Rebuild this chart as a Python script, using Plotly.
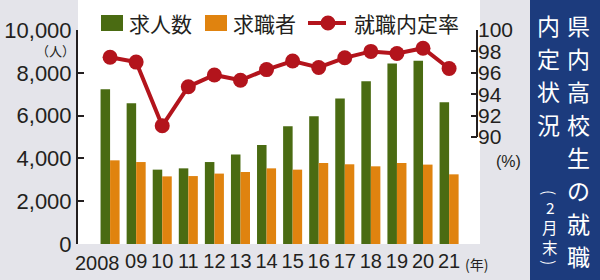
import plotly.graph_objects as go

# ---- data ----
years = ["2008", "09", "10", "11", "12", "13", "14", "15", "16", "17", "18", "19", "20", "21"]
job_openings = [7230, 6580, 3475, 3535, 3830, 4180, 4630, 5500, 5970, 6800, 7610, 8440, 8560, 6620]   # 求人数
job_seekers = [3910, 3830, 3160, 3175, 3290, 3365, 3535, 3475, 3785, 3725, 3630, 3785, 3710, 3255]    # 求職者
offer_rate = [97.45, 97.0, 91.05, 94.7, 95.8, 95.3, 96.3, 97.1, 96.5, 97.4, 98.0, 97.8, 98.3, 96.4]   # 就職内定率
left_ticks = [0, 2000, 4000, 6000, 8000, 10000]
right_ticks = [90, 92, 94, 96, 98, 100]
names = ["求人数", "求職者", "就職内定率"]
title_right = "県内高校生の就職"
title_left = "内定状況"
title_note = "（2月末）"

# ---- style ----
GREEN = "#4a6b12"
ORANGE = "#e0830f"
RED = "#b3141c"
NAVY = "#1c3b7d"
BG = "#e4e4ea"
TXT = "#231f20"
NUM_FONT = "Liberation Sans, Arial, sans-serif"
CJK_FONT = "Noto Sans CJK JP, sans-serif"

W, H = 600, 280
L, R, T, B = 78, 477, 30, 244


def px(x):
    return (x - L) / (R - L)


def py(y):
    return (B - y) / (B - T)


fig = go.Figure()
fig.add_bar(x=years, y=job_openings, name=names[0], marker=dict(color=GREEN, line=dict(width=0)))
fig.add_bar(x=years, y=job_seekers, name=names[1], marker=dict(color=ORANGE, line=dict(width=0)))
fig.add_scatter(x=years, y=offer_rate, name=names[2], yaxis="y2", mode="lines+markers",
                line=dict(color=RED, width=4), marker=dict(color=RED, size=15), cliponaxis=False)

# first year label is drawn shifted left (as in the original), the rest are axis tick labels
xtext = [""] + years[1:]

shapes = [
    # white chart area
    dict(type="rect", xref="paper", yref="paper", x0=px(L), x1=px(480), y0=py(244), y1=py(0),
         fillcolor="white", line=dict(width=0), layer="below"),
    # navy title box
    dict(type="rect", xref="paper", yref="paper", x0=px(530), x1=px(600), y0=py(280), y1=py(0),
         fillcolor=NAVY, line=dict(width=0), layer="below"),
    # right axis line (90-100 only)
    dict(type="line", xref="x domain", yref="y2", x0=1, x1=1, y0=right_ticks[0], y1=right_ticks[-1],
         line=dict(color=TXT, width=2)),
    # legend swatches
    dict(type="rect", xref="paper", yref="paper", x0=px(101), x1=px(123), y0=py(31), y1=py(15),
         fillcolor=GREEN, line=dict(width=0)),
    dict(type="rect", xref="paper", yref="paper", x0=px(205), x1=px(227), y0=py(31), y1=py(15),
         fillcolor=ORANGE, line=dict(width=0)),
    dict(type="line", xref="paper", yref="paper", x0=px(308), x1=px(346), y0=py(23), y1=py(23),
         line=dict(color=RED, width=4)),
    dict(type="circle", xref="paper", yref="paper", x0=px(320.5), x1=px(335.5), y0=py(30.5), y1=py(15.5),
         fillcolor=RED, line=dict(width=0)),
]

annotations = [
    dict(text=years[0], x=0, xref="x", xshift=-13, y=py(263), yref="paper",
         xanchor="center", yanchor="middle", showarrow=False,
         font=dict(family=NUM_FONT, size=20, color=TXT)),
    dict(text=names[0], x=px(127), y=py(23), xref="paper", yref="paper", xanchor="left", yanchor="middle",
         showarrow=False, font=dict(family=CJK_FONT, size=21, color=TXT)),
    dict(text=names[1], x=px(231), y=py(23), xref="paper", yref="paper", xanchor="left", yanchor="middle",
         showarrow=False, font=dict(family=CJK_FONT, size=21, color=TXT)),
    dict(text=names[2], x=px(352), y=py(23), xref="paper", yref="paper", xanchor="left", yanchor="middle",
         showarrow=False, font=dict(family=CJK_FONT, size=21, color=TXT)),
    dict(text="（人）", x=px(55), y=py(51), xref="paper", yref="paper", xanchor="center", yanchor="middle",
         showarrow=False, font=dict(family=CJK_FONT, size=13, color=TXT)),
    dict(text="(%)", x=px(508), y=py(161), xref="paper", yref="paper", xanchor="center", yanchor="middle",
         showarrow=False, font=dict(family=NUM_FONT, size=16, color=TXT)),
    dict(text="(年)", x=px(476), y=py(264), xref="paper", yref="paper", xanchor="center", yanchor="middle",
         showarrow=False, font=dict(family=CJK_FONT, size=14, color=TXT)),
]

# vertical title: one character per row
for col_text, col_x in ((title_right, 578), (title_left, 548)):
    for i, ch in enumerate(col_text):
        annotations.append(dict(text=ch, x=px(col_x), y=py(25 + 33 * i), xref="paper", yref="paper",
                                xanchor="center", yanchor="middle", showarrow=False,
                                font=dict(family=CJK_FONT, size=23, color="white")))

note_chars = ["(", "2", "月", "末", ")"]
note_y = [192, 207, 227, 247, 262]
for ch, yy in zip(note_chars, note_y):
    annotations.append(dict(text=ch, x=px(550), y=py(yy), xref="paper", yref="paper",
                            xanchor="center", yanchor="middle", showarrow=False,
                            textangle=90 if ch in "()" else 0,
                            font=dict(family=CJK_FONT, size=15.5, color="white")))

fig.update_layout(
    width=W, height=H,
    margin=dict(l=L, r=W - R, t=T, b=H - B, pad=0, autoexpand=False),
    paper_bgcolor=BG, plot_bgcolor="rgba(0,0,0,0)",
    showlegend=False,
    barmode="group", bargap=0.27, bargroupgap=0,
    font=dict(family=NUM_FONT, color=TXT),
    xaxis=dict(range=[-1.23, 14.07], tickvals=years, ticktext=xtext, showgrid=False, zeroline=False,
               showline=False, ticks="", tickangle=0, automargin=False,
               tickfont=dict(family=NUM_FONT, size=20, color=TXT), ticklabelstandoff=3),
    yaxis=dict(range=[0, 10000], tickvals=left_ticks, tickformat=",d", showgrid=False, zeroline=False,
               showline=True, linecolor=TXT, linewidth=2, ticks="inside", ticklen=6, tickwidth=2,
               tickcolor=TXT, automargin=False, tickfont=dict(family=NUM_FONT, size=22, color=TXT)),
    yaxis2=dict(range=[80, 100], overlaying="y", side="right", tickvals=right_ticks, showgrid=False,
                zeroline=False, showline=False, ticks="inside", ticklen=6, tickwidth=2, tickcolor=TXT,
                automargin=False, tickfont=dict(family=NUM_FONT, size=21, color=TXT)),
    shapes=shapes,
    annotations=annotations,
)

fig.write_html("out.html")
